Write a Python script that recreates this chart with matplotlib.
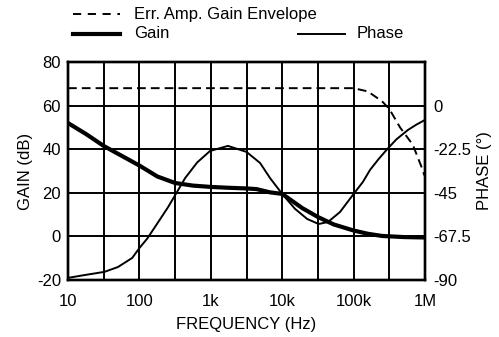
import matplotlib
matplotlib.use("Agg")
import matplotlib.pyplot as plt
from matplotlib.lines import Line2D
from matplotlib.ticker import FixedLocator, NullLocator

plt.rcParams['font.family'] = ['Liberation Sans', 'DejaVu Sans']
plt.rcParams['axes.unicode_minus'] = False

# Error amplifier gain envelope (dB)
env_freq = [10, 1e5, 1.58e5, 2.5e5, 3.16e5, 4.47e5, 6.76e5, 8.9e5, 9.8e5]
env_gain = [68, 68, 66.5, 62, 58.5, 50, 42, 32, 28]

# Loop gain (dB)
gain_freq = [10, 17.8, 31.6, 56.2, 100, 178, 316, 562, 1e3, 1778, 3162,
             4365, 6761, 1e4, 19055, 31623, 52481, 1e5, 158489, 251189,
             501187, 1e6]
gain_db = [52, 47, 41.5, 37, 32.5, 27.5, 24.5, 23.3, 22.7, 22.3, 22,
           21.7, 20.2, 19.5, 13, 8.9, 5.5, 2.7, 1.2, 0.2,
           -0.3, -0.5]

# Phase (degrees)
phase_freq = [10, 17.4, 32.4, 50.1, 79.4, 100, 129, 182, 251, 324, 437,
              646, 977, 1738, 3162, 4898, 6761, 1e4, 15136, 22387, 32359,
              43652, 64565, 1e5, 134896, 169824, 223872, 295121, 398107,
              575440, 758578, 1e6]
phase_deg = [-88.9, -87.4, -85.8, -83.3, -78.6, -73.5, -68.6, -60.3, -52.5,
             -45.6, -37.4, -29.3, -23.4, -20.8, -23.9, -29.6, -37.4, -45.6,
             -53.3, -58.5, -61.1, -60.1, -54.9, -45.6, -39.4, -33.2, -27.6,
             -22.5, -17.4, -12.6, -9.8, -7.4]

fig = plt.figure(figsize=(4.99, 3.37), dpi=100)
ax = fig.add_axes([68 / 499, 1 - 280 / 337, 357 / 499, 218 / 337])
ax2 = ax.twinx()

ax.set_xscale('log')
ax.set_xlim(10, 1e6)
ax.set_ylim(-20, 80)
ax2.set_ylim(-90, 22.5)

grid_x = [10 ** (1 + 0.5 * k) for k in range(11)]
for gx in grid_x[1:-1]:
    ax.axvline(gx, color='black', lw=1.4, zorder=1)
for gy in [0, 20, 40, 60]:
    ax.axhline(gy, color='black', lw=1.4, zorder=1)

ax.plot(env_freq, env_gain, color='black', lw=1.4, ls=(0, (4.5, 2.6)), zorder=3)
ax.plot(gain_freq, gain_db, color='black', lw=3.0, zorder=3,
        solid_joinstyle='round', solid_capstyle='butt')
ax2.plot(phase_freq, phase_deg, color='black', lw=1.4, zorder=3,
         solid_joinstyle='round')

ax.xaxis.set_major_locator(FixedLocator([10, 100, 1e3, 1e4, 1e5, 1e6]))
ax.xaxis.set_minor_locator(NullLocator())
ax.set_xticklabels(['10', '100', '1k', '10k', '100k', '1M'])
ax.set_yticks([-20, 0, 20, 40, 60, 80])
ax.set_yticklabels(['-20', '0', '20', '40', '60', '80'])
ax2.set_yticks([-90, -67.5, -45, -22.5, 0])
ax2.set_yticklabels(['-90', '-67.5', '-45', '-22.5', '0'])

for a in (ax, ax2):
    a.tick_params(length=0, labelsize=12, pad=5)
    for s in a.spines.values():
        s.set_linewidth(1.7)
ax.tick_params(axis='x', pad=10)
ax2.tick_params(axis='y', pad=6)

ax.set_xlabel('FREQUENCY (Hz)', fontsize=12, labelpad=6)
ax.set_ylabel('GAIN (dB)', fontsize=12, labelpad=3)
ax2.set_ylabel('PHASE (°)', fontsize=12, labelpad=4)

# Legend drawn in figure coordinates
def fx(px):
    return px / 499

def fy(py):
    return 1 - py / 337

fig.add_artist(Line2D([fx(73), fx(120)], [fy(14), fy(14)], color='black',
                      lw=1.4, ls=(0, (4.2, 3.4)), transform=fig.transFigure))
fig.text(fx(134), fy(14), 'Err. Amp. Gain Envelope', fontsize=12, va='center')
fig.add_artist(Line2D([fx(73), fx(120)], [fy(34), fy(34)], color='black',
                      lw=3.0, transform=fig.transFigure))
fig.text(fx(134), fy(34), 'Gain', fontsize=12, va='center')
fig.add_artist(Line2D([fx(298), fx(345)], [fy(34), fy(34)], color='black',
                      lw=1.4, transform=fig.transFigure))
fig.text(fx(357), fy(34), 'Phase', fontsize=12, va='center')

fig.savefig('out.png', dpi=100)
